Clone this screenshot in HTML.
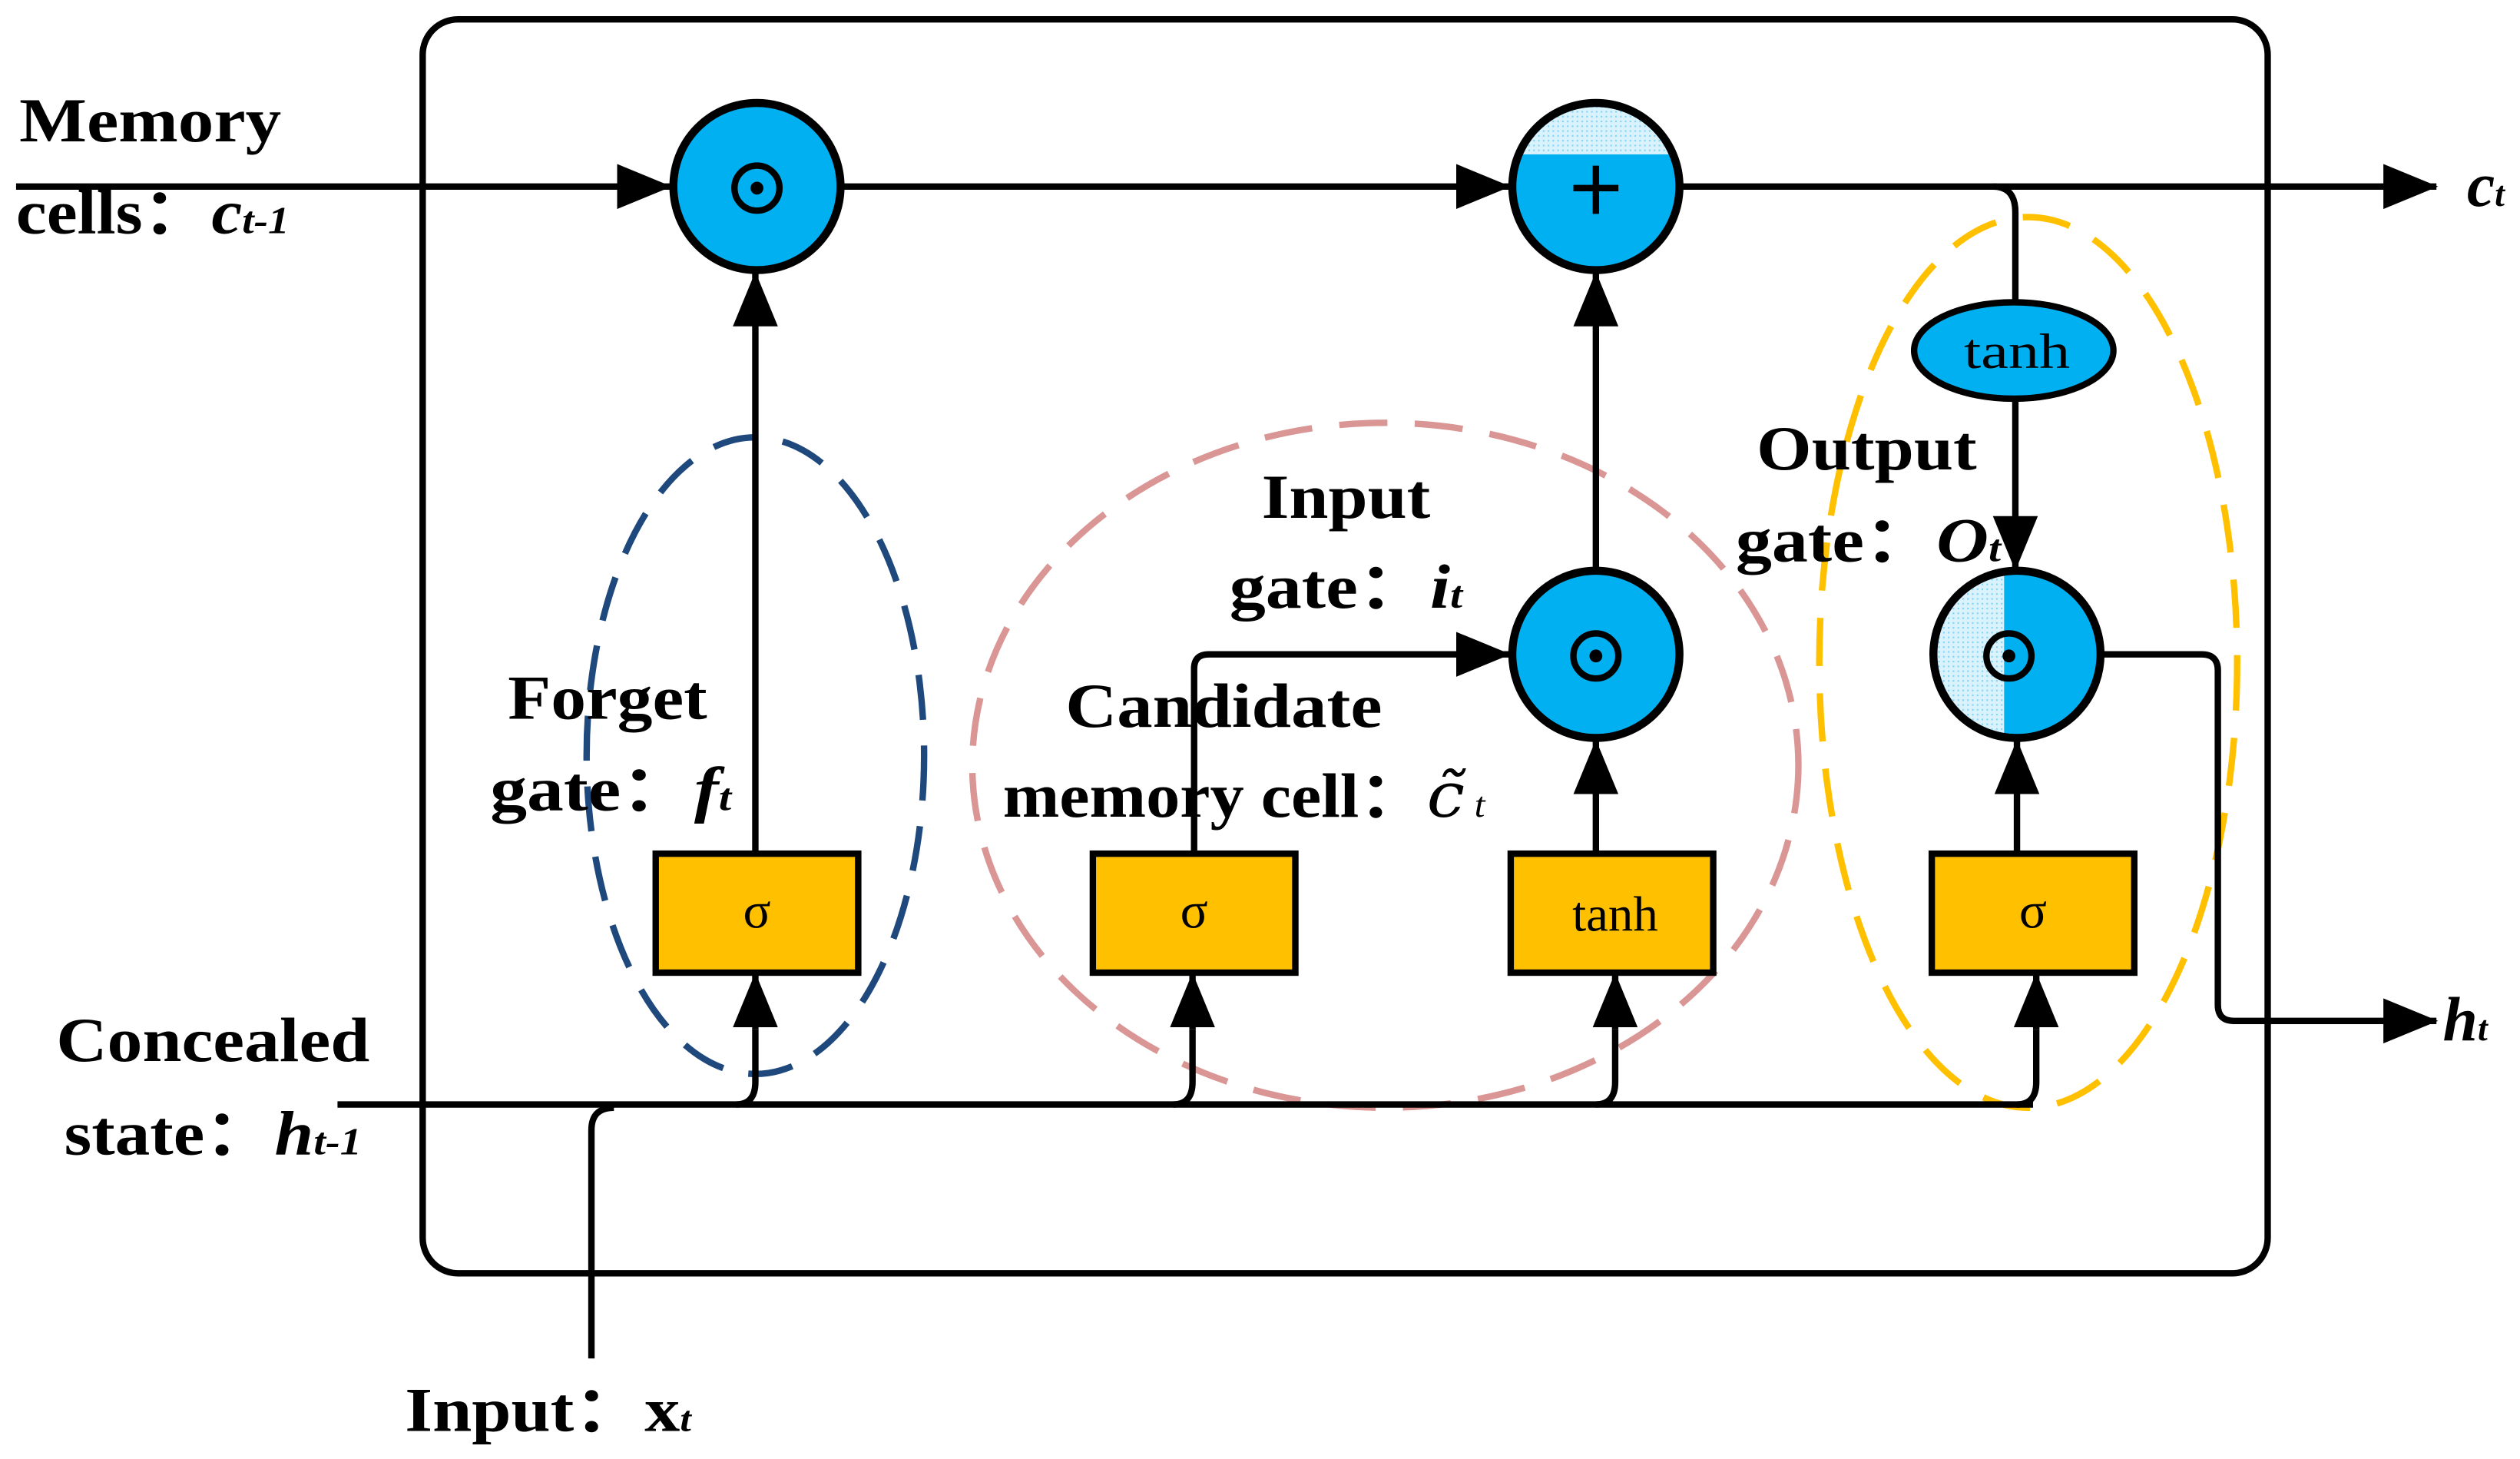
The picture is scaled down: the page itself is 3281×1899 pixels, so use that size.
<!DOCTYPE html>
<html><head><meta charset="utf-8"><style>html,body{margin:0;padding:0;background:#fff}svg{display:block}</style></head>
<body>
<svg width="3281" height="1899" viewBox="0 0 1568 907.5" xmlns="http://www.w3.org/2000/svg" font-family="'Liberation Serif',serif" font-weight="bold">
<defs>
<marker id="a" viewBox="0 0 34 28" refX="33" refY="14" markerWidth="34" markerHeight="28" markerUnits="userSpaceOnUse" orient="auto"><path d="M0,0 L34,14 L0,28 Z" fill="#000"/></marker>
<pattern id="dot" width="3" height="3" patternUnits="userSpaceOnUse"><rect width="3" height="3" fill="#d9f2fc"/><rect width="1" height="1" fill="#7fd4f5"/></pattern>
</defs>
<rect x="263" y="12" width="1148" height="780" rx="22" fill="none" stroke="#000" stroke-width="4"/>
<ellipse cx="470" cy="470" rx="105" ry="198" fill="none" stroke="#1F497D" stroke-width="4" stroke-dasharray="28,16"/>
<ellipse cx="862" cy="476" rx="257" ry="213" fill="none" stroke="#D99694" stroke-width="4" stroke-dasharray="30,17"/>
<ellipse cx="1262" cy="412" rx="130" ry="277" fill="none" stroke="#FFC000" stroke-width="4" stroke-dasharray="30,17"/>
<g stroke="#000" stroke-width="4" fill="none">
<line x1="10" y1="116" x2="417" y2="116" marker-end="url(#a)"/>
<line x1="523" y1="116" x2="939" y2="116" marker-end="url(#a)"/>
<line x1="1045" y1="116" x2="1516" y2="116" marker-end="url(#a)"/>
<path d="M1240,116 Q1254,116 1254,132 L1254,188"/>
<line x1="1254" y1="248" x2="1254" y2="354" marker-end="url(#a)"/>
<line x1="470" y1="531" x2="470" y2="170" marker-end="url(#a)"/>
<line x1="993" y1="355" x2="993" y2="170" marker-end="url(#a)"/>
<line x1="993" y1="531" x2="993" y2="461" marker-end="url(#a)"/>
<path d="M743,531 L743,416 Q743,407 752,407 L939,407" marker-end="url(#a)"/>
<line x1="1255" y1="531" x2="1255" y2="461" marker-end="url(#a)"/>
<path d="M1307,407 L1370,407 Q1380,407 1380,417 L1380,625 Q1380,635 1390,635 L1516,635" marker-end="url(#a)"/>
<line x1="210" y1="687" x2="1265" y2="687"/>
<path d="M368,845 L368,703 Q368,689 382,689"/>
<path d="M458,687 Q470,687 470,673 L470,640"/>
<path d="M730,687 Q742,687 742,673 L742,640"/>
<path d="M993,687 Q1005,687 1005,673 L1005,640"/>
<path d="M1255,687 Q1267,687 1267,673 L1267,640"/>
<line x1="470" y1="640" x2="470" y2="606" marker-end="url(#a)"/>
<line x1="742" y1="640" x2="742" y2="606" marker-end="url(#a)"/>
<line x1="1005" y1="640" x2="1005" y2="606" marker-end="url(#a)"/>
<line x1="1267" y1="640" x2="1267" y2="606" marker-end="url(#a)"/>
</g>
<g stroke="#000" stroke-width="5">
<circle cx="471" cy="116" r="52" fill="#00B0F0"/>
<circle cx="993" cy="407" r="52" fill="#00B0F0"/>
</g>
<clipPath id="c1"><circle cx="993" cy="116" r="52"/></clipPath>
<rect x="940" y="62" width="110" height="110" fill="#00B0F0" clip-path="url(#c1)"/>
<rect x="940" y="62" width="110" height="34" fill="url(#dot)" clip-path="url(#c1)"/>
<circle cx="993" cy="116" r="52" fill="none" stroke="#000" stroke-width="5"/>
<clipPath id="c2"><circle cx="1255" cy="407" r="52"/></clipPath>
<rect x="1200" y="352" width="110" height="110" fill="#00B0F0" clip-path="url(#c2)"/>
<rect x="1200" y="352" width="47" height="110" fill="url(#dot)" clip-path="url(#c2)"/>
<circle cx="1255" cy="407" r="52" fill="none" stroke="#000" stroke-width="5"/>
<g stroke="#000" stroke-width="4" fill="none">
<circle cx="471" cy="117" r="14"/><circle cx="993" cy="408" r="14"/><circle cx="1250" cy="408" r="14"/>
<line x1="979" y1="117" x2="1007" y2="117"/><line x1="993" y1="103" x2="993" y2="133"/>
</g>
<circle cx="471" cy="117" r="4"/><circle cx="993" cy="408" r="4"/><circle cx="1250" cy="408" r="4"/>
<ellipse cx="1253" cy="218" rx="62" ry="30" fill="#00B0F0" stroke="#000" stroke-width="4"/>
<text x="1222" y="229" font-size="31" font-weight="normal" textLength="66" lengthAdjust="spacingAndGlyphs">tanh</text>
<g fill="#FFC000" stroke="#000" stroke-width="4">
<rect x="408" y="531" width="126" height="74"/>
<rect x="680" y="531" width="126" height="74"/>
<rect x="940" y="531" width="126" height="74"/>
<rect x="1202" y="531" width="126" height="74"/>
</g>
<g font-size="32" font-weight="normal" text-anchor="middle">
<text x="471" y="577">σ</text><text x="743" y="577">σ</text>
<text x="1005" y="579" font-size="31">tanh</text><text x="1265" y="577">σ</text>
</g>
<g font-size="39" lengthAdjust="spacingAndGlyphs">
<text x="12" y="88" textLength="163" lengthAdjust="spacingAndGlyphs">Memory</text>
<text x="10" y="145" textLength="170" lengthAdjust="spacingAndGlyphs">cells：<tspan font-style="italic">c</tspan><tspan font-style="italic" font-size="24">t-1</tspan></text>
<text x="1535" y="128" font-style="italic">c<tspan font-size="22">t</tspan></text>
<text x="1520" y="647" font-style="italic">h<tspan font-size="22">t</tspan></text>
<text x="35" y="660" textLength="195" lengthAdjust="spacingAndGlyphs">Concealed</text>
<text x="40" y="718" textLength="185" lengthAdjust="spacingAndGlyphs">state：<tspan font-style="italic">h</tspan><tspan font-style="italic" font-size="24">t-1</tspan></text>
<text x="252" y="890" textLength="178" lengthAdjust="spacingAndGlyphs">Input：<tspan>x</tspan><tspan font-style="italic" font-size="22">t</tspan></text>
<text x="316" y="447" textLength="124" lengthAdjust="spacingAndGlyphs">Forget</text>
<text x="305" y="504" textLength="150" lengthAdjust="spacingAndGlyphs">gate：<tspan font-style="italic">f</tspan><tspan font-style="italic" font-size="24">t</tspan></text>
<text x="785" y="322" textLength="105" lengthAdjust="spacingAndGlyphs">Input</text>
<text x="765" y="378" textLength="145" lengthAdjust="spacingAndGlyphs">gate：<tspan font-style="italic">i</tspan><tspan font-style="italic" font-size="24">t</tspan></text>
<text x="663" y="452" textLength="197" lengthAdjust="spacingAndGlyphs">Candidate</text>
<text x="624" y="508" textLength="300" lengthAdjust="spacingAndGlyphs">memory cell：<tspan font-style="italic" font-weight="normal" font-family="'DejaVu Serif',serif">c̃</tspan><tspan font-style="italic" font-size="22" font-weight="normal"> t</tspan></text>
<text x="1093" y="292" textLength="137" lengthAdjust="spacingAndGlyphs">Output</text>
<text x="1080" y="349" textLength="165" lengthAdjust="spacingAndGlyphs">gate：<tspan font-style="italic">O</tspan><tspan font-style="italic" font-size="24">t</tspan></text>
</g>
</svg>
</body></html>
